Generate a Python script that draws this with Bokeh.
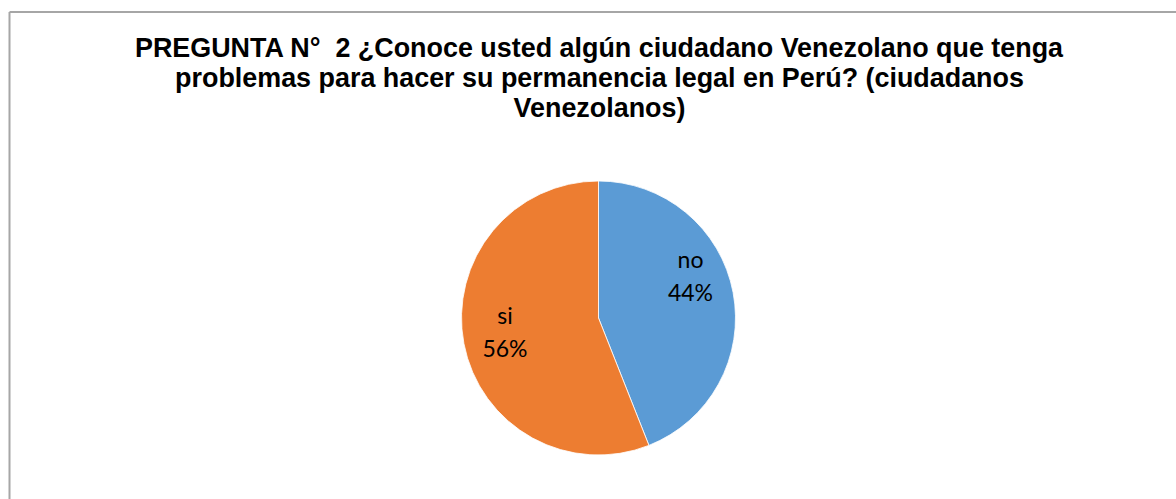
import math
from bokeh.plotting import figure
from bokeh.models import Range1d, ColumnDataSource
from bokeh.core.properties import value
from bokeh.embed import file_html
from bokeh.resources import INLINE

# ---- data ----
categories = ["no", "si"]
percentages = [44, 56]
colors = ["#5B9BD5", "#ED7D31"]
title_lines = [
    "PREGUNTA N°\u00a0 2 ¿Conoce usted algún ciudadano Venezolano que tenga",
    "problemas para hacer su permanencia legal en Perú? (ciudadanos",
    "Venezolanos)",
]

# ---- layout constants (page pixel space, y measured downward then flipped) ----
W, H = 1176, 499
def Y(py):
    return H - py

cx, cy = 598, Y(317.5)
R = 137
label_dx = [92, -93.5]
label_base = [258, 314]   # first label line position (page px)
label_gap = 33

p = figure(width=W, height=H, output_backend="svg", toolbar_location=None,
           x_range=Range1d(0, W), y_range=Range1d(0, H), min_border=0)
p.axis.visible = False
p.grid.visible = False
p.outline_line_color = None
p.background_fill_color = "white"
p.border_fill_color = "white"

# frame lines (top & left visible in reference)
p.segment(x0=[9, 9], y0=[0, Y(11.5)], x1=[9, W], y1=[Y(11.5), Y(11.5)],
          line_color="#a6a6a6", line_width=2)

# pie wedges, clockwise from 12 o'clock
total = sum(percentages)
starts, ends = [], []
acc = 0
for v in percentages:
    a0 = math.pi / 2 - 2 * math.pi * acc / total
    acc += v
    a1 = math.pi / 2 - 2 * math.pi * acc / total
    starts.append(a0)
    ends.append(a1)

src = ColumnDataSource(dict(start=starts, end=ends, color=colors, cat=categories))
p.wedge(x=cx, y=cy, radius=R, start_angle="start", end_angle="end",
        direction="clock", fill_color="color", line_color="white", line_width=0.8,
        source=src)

# labels
for i, c in enumerate(categories):
    lx = cx + label_dx[i]
    ly = Y(label_base[i])
    p.text(x=[lx, lx], y=[ly, ly - label_gap], text=[c, f"{percentages[i]}%"],
           text_font=value("Lato"), text_font_size="23px",
           text_align="center", text_baseline="alphabetic", text_color="#000000")

# title
for k, line in enumerate(title_lines):
    p.text(x=[599], y=[Y(47 + 30 * k)], text=[line],
           text_font=value("Liberation Sans"), text_font_style="bold",
           text_font_size="26.9px", text_align="center",
           text_baseline="alphabetic", text_color="#000000")

open("out.html", "w").write(file_html(p, INLINE))
